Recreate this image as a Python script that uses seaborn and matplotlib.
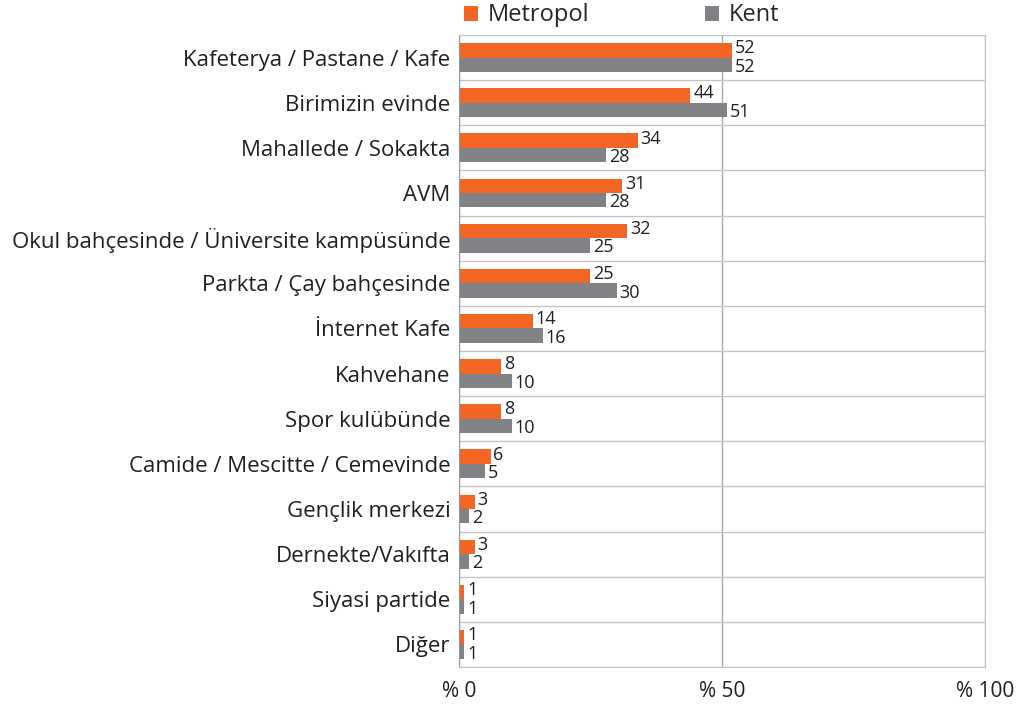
import numpy as np
import pandas as pd
import matplotlib.pyplot as plt
import seaborn as sns

# === data ===
categories = [
    "Kafeterya / Pastane / Kafe",
    "Birimizin evinde",
    "Mahallede / Sokakta",
    "AVM",
    "Okul bahçesinde / Üniversite kampüsünde",
    "Parkta / Çay bahçesinde",
    "İnternet Kafe",
    "Kahvehane",
    "Spor kulübünde",
    "Camide / Mescitte / Cemevinde",
    "Gençlik merkezi",
    "Dernekte/Vakıfta",
    "Siyasi partide",
    "Diğer",
]
metropol = [52, 44, 34, 31, 32, 25, 14, 8, 8, 6, 3, 3, 1, 1]
kent = [52, 51, 28, 28, 25, 30, 16, 10, 10, 5, 2, 2, 1, 1]
series = ["Metropol", "Kent"]
x_ticks = [0, 50, 100]
x_labels = ["% 0", "% 50", "% 100"]

ORANGE = "#F26522"
GRAY = "#808285"
GRID = "#c4c4c4"
TEXT = "#231f20"

df = pd.DataFrame({
    "yer": categories * 2,
    "oran": metropol + kent,
    "grup": ["Metropol"] * len(categories) + ["Kent"] * len(categories),
})

sns.set_style("white")
plt.rcParams["font.family"] = ["Open Sans", "DejaVu Sans"]

fig = plt.figure(figsize=(10.19, 7.05), dpi=100)
ax = fig.add_axes([0.4504, 0.0539, 0.5162, 0.8965])

sns.barplot(data=df, y="yer", x="oran", hue="grup", hue_order=series,
            palette=[ORANGE, GRAY], order=categories, width=0.64,
            orient="h", ax=ax, legend=True, saturation=1, linewidth=0)

# value labels, orange ones nudged up and gray ones down like the original
for cont, dy in zip(ax.containers, [1.5, -1.5]):
    anns = ax.bar_label(cont, labels=[f"{int(v)}" for v in cont.datavalues],
                        padding=2, fontsize=13, color=TEXT)
    for a in anns:
        a.xyann = (2, dy)

ax.set_xlim(0, 100)
ax.set_ylim(len(categories) - 0.5, -0.5)
ax.set_xticks(x_ticks)
ax.set_xticklabels(x_labels, fontsize=15, color=TEXT)
ax.tick_params(axis="x", length=0, pad=10)
ax.tick_params(axis="y", which="major", length=0, pad=6, labelsize=16, labelcolor=TEXT)
ax.set_xlabel("")
ax.set_ylabel("")

# separators between categories
ax.set_yticks(np.arange(-0.5, len(categories), 1), minor=True)
ax.tick_params(axis="y", which="minor", length=6, color=GRID, width=1)
ax.grid(axis="y", which="minor", color=GRID, lw=1)
ax.grid(axis="x", which="major", color="#a8a8a8", lw=1)
ax.set_axisbelow(True)

for side in ["top", "right", "bottom"]:
    ax.spines[side].set_color(GRID)
ax.spines["left"].set_color("#999999")

leg = ax.legend(loc="lower left", bbox_to_anchor=(0.01, 1.012), ncol=2, frameon=False,
                fontsize=17, handlelength=0.6, handleheight=0.6,
                columnspacing=4.9, handletextpad=0.4, borderaxespad=0.0,
                borderpad=0.0)

fig.savefig("out.png", dpi=100)
